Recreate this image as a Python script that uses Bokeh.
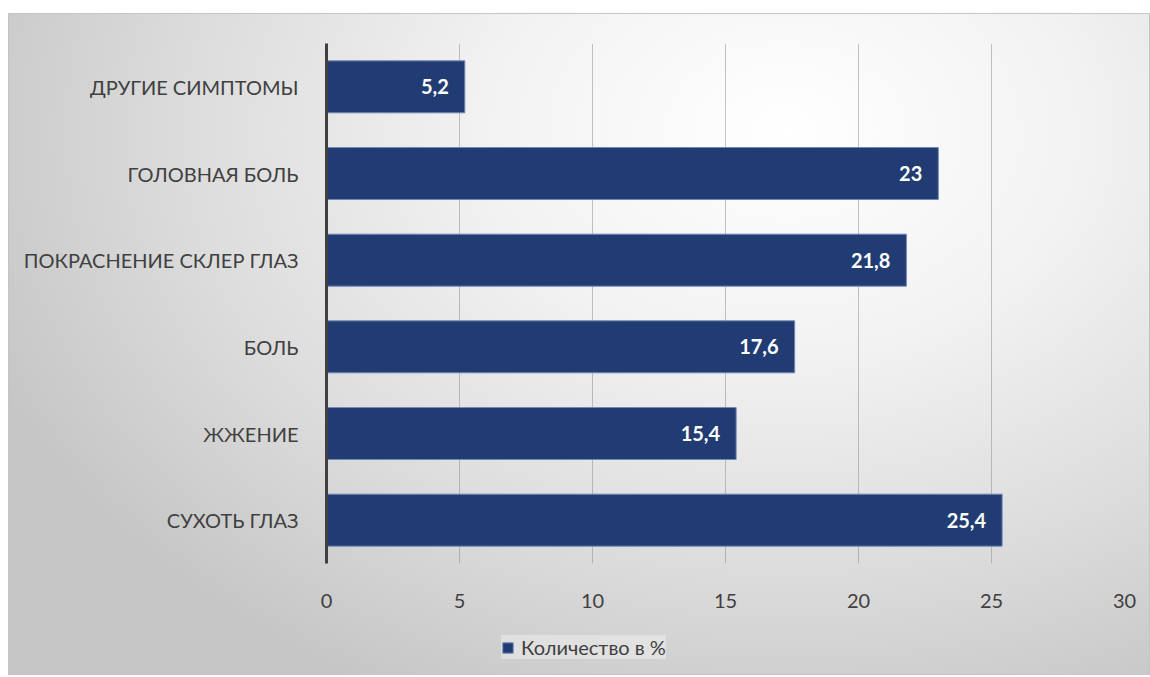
from bokeh.plotting import figure
from bokeh.models import (ColumnDataSource, FactorRange, Range1d, Legend, LegendItem,
                          InlineStyleSheet, Spacer, LabelSet, FixedTicker)
from bokeh.layouts import column, row
from bokeh.embed import file_html
from bokeh.resources import INLINE
from bokeh.core.properties import value

# ---- data (top to bottom as shown) ----
categories = ["ДРУГИЕ СИМПТОМЫ", "ГОЛОВНАЯ БОЛЬ", "ПОКРАСНЕНИЕ СКЛЕР ГЛАЗ",
              "БОЛЬ", "ЖЖЕНИЕ", "СУХОТЬ ГЛАЗ"]
values = [5.2, 23, 21.8, 17.6, 15.4, 25.4]
value_labels = ["5,2", "23", "21,8", "17,6", "15,4", "25,4"]
series_name = "Количество в %"
x_ticks = [0, 5, 10, 15, 20, 25, 30]

FONT = "Lato"
TEXT = "#404040"
BAR = "#213C72"
BAR_LINE = "#7388b5"

src = ColumnDataSource(dict(cat=categories, val=values, lab=value_labels))

css = InlineStyleSheet(css=""":host {
  background: radial-gradient(ellipse 75% 95% at 68% 18%, #ffffff 0%, #f2f2f2 35%, #dcdcdc 70%, #c6c6c6 100%);
  outline: 1px solid #c4c4c4; outline-offset: -1px;
}""")

W = 1142
p = figure(width=W, height=602,
           y_range=FactorRange(factors=categories[::-1], range_padding=0),
           x_range=Range1d(0, 30),
           output_backend="svg", toolbar_location=None,
           min_border_left=318, min_border_right=26,
           min_border_top=30, min_border_bottom=52)
p.background_fill_alpha = 0
p.border_fill_alpha = 0
p.outline_line_color = None

r = p.hbar(y="cat", right="val", left=0, height=0.6, source=src,
           fill_color=BAR, line_color=BAR_LINE, line_width=1)

labels = LabelSet(x="val", y="cat", text="lab", source=src, x_offset=-16,
                  text_align="right", text_baseline="middle",
                  text_color="white", text_font=value(FONT),
                  text_font_style="bold", text_font_size="20px")
p.add_layout(labels)

# axes
p.xaxis.ticker = FixedTicker(ticks=x_ticks)
p.xaxis.axis_line_color = None
p.xaxis.major_tick_line_color = None
p.xaxis.minor_tick_line_color = None
p.xaxis.major_label_standoff = 24
p.xaxis.major_label_text_font = FONT
p.xaxis.major_label_text_font_size = "20px"
p.xaxis.major_label_text_color = TEXT

p.yaxis.axis_line_color = "#404040"
p.yaxis.axis_line_width = 3
p.yaxis.major_tick_line_color = None
p.yaxis.minor_tick_line_color = None
p.yaxis.major_label_standoff = 22
p.yaxis.major_label_text_font = FONT
p.yaxis.major_label_text_font_size = "20px"
p.yaxis.major_label_text_color = TEXT

p.xgrid.grid_line_color = "#7f7f7f"
p.xgrid.grid_line_alpha = 0.45
p.ygrid.grid_line_color = None

# legend strip (separate small figure, transparent, sharing the gradient container)
lf = figure(width=W, height=60, x_range=Range1d(0, 1), y_range=Range1d(0, 1),
            x_axis_type=None, y_axis_type=None, title=None,
            output_backend="svg", toolbar_location=None,
            min_border=0, min_border_left=318, min_border_right=26,
            min_border_top=0, min_border_bottom=0)
lf.grid.visible = False
lf.background_fill_alpha = 0
lf.border_fill_alpha = 0
lf.outline_line_color = None
dummy = lf.hbar(y=[-100], right=[-99], left=[-100], height=0.6,
                fill_color=BAR, line_color=BAR_LINE, line_width=1)
legend = Legend(items=[LegendItem(label=series_name, renderers=[dummy])],
                location=(175, 16), orientation="horizontal",
                glyph_width=13, glyph_height=13, label_standoff=7,
                padding=13, margin=0, spacing=0,
                label_text_font=FONT, label_text_font_size="20px",
                label_text_color=TEXT, label_height=20,
                background_fill_color="white", background_fill_alpha=0.35,
                border_line_color=None)
lf.add_layout(legend, "center")

box = column(p, lf, spacing=0, width=W, height=662)
box.stylesheets = [css]

layout = row(Spacer(width=8), column(Spacer(height=13), box, spacing=0), spacing=0)

open("out.html", "w").write(file_html(layout, INLINE))
